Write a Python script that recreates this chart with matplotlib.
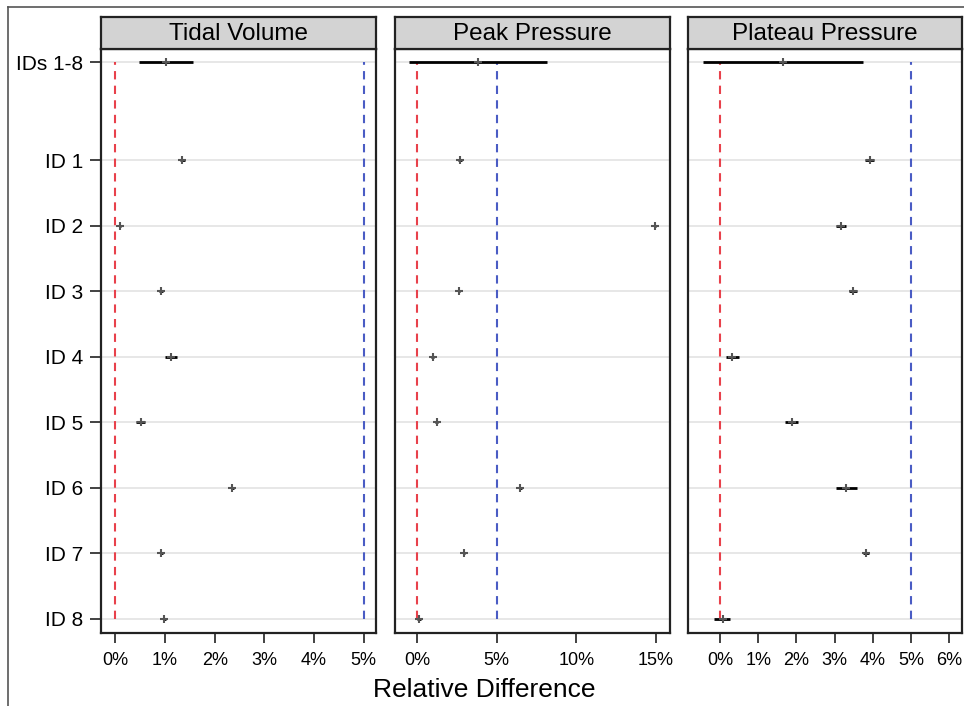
import matplotlib
matplotlib.use("Agg")
import matplotlib.pyplot as plt
from matplotlib.lines import Line2D

plt.rcParams['font.family'] = ['Liberation Sans', 'DejaVu Sans']

row_labels = ["IDs 1-8", "ID 1", "ID 2", "ID 3", "ID 4", "ID 5", "ID 6", "ID 7", "ID 8"]
row_pos = [9.5, 8, 7, 6, 5, 4, 3, 2, 1]

panel_titles = ["Tidal Volume", "Peak Pressure", "Plateau Pressure"]

tv_est = [1.02, 1.35, 0.09, 0.92, 1.12, 0.51, 2.35, 0.92, 0.98]
tv_lo = [0.48, 1.30, 0.07, 0.88, 1.00, 0.42, 2.32, 0.89, 0.95]
tv_hi = [1.57, 1.40, 0.11, 0.96, 1.24, 0.60, 2.38, 0.95, 1.01]

pk_est = [3.86, 2.70, 14.97, 2.64, 0.99, 1.24, 6.50, 2.96, 0.13]
pk_lo = [-0.48, 2.60, 14.90, 2.57, 0.90, 1.14, 6.38, 2.92, 0.03]
pk_hi = [8.16, 2.80, 15.04, 2.71, 1.08, 1.34, 6.62, 3.00, 0.23]

pl_est = [1.66, 3.92, 3.18, 3.48, 0.31, 1.88, 3.30, 3.82, 0.07]
pl_lo = [-0.45, 3.80, 3.05, 3.38, 0.15, 1.71, 3.03, 3.74, -0.15]
pl_hi = [3.74, 4.04, 3.31, 3.58, 0.50, 2.03, 3.58, 3.90, 0.26]

x_ticks = [[0, 1, 2, 3, 4, 5], [0, 5, 10, 15], [0, 1, 2, 3, 4, 5, 6]]
x_limits = [(-0.29, 5.25), (-1.38, 15.89), (-0.84, 6.34)]
ref_lines = [0, 5]

data = [(tv_est, tv_lo, tv_hi), (pk_est, pk_lo, pk_hi), (pl_est, pl_lo, pl_hi)]

W, H = 964, 706
fig = plt.figure(figsize=(W / 100, H / 100), dpi=100)

panel_px = [(101, 376), (395, 670), (688, 962)]
top_px, bot_px = 49, 633
strip_top = 17

for i, ((x0, x1), (est, lo, hi)) in enumerate(zip(panel_px, data)):
    ax = fig.add_axes([x0 / W, 1 - bot_px / H, (x1 - x0) / W, (bot_px - top_px) / H])
    ax.set_xlim(*x_limits[i])
    ax.set_ylim(0.786, 9.70)
    for y in row_pos:
        ax.axhline(y, color='#e3e3e3', lw=1.2, zorder=0)
    ax.vlines(ref_lines[0], 1, 9.5, colors='#e8414b', linestyles=(0, (4, 3)), lw=1.5, zorder=1)
    ax.vlines(ref_lines[1], 1, 9.5, colors='#4a5cc4', linestyles=(0, (4, 3)), lw=1.5, zorder=1)
    ax.hlines(row_pos, lo, hi, colors='black', lw=2.0, zorder=2)
    ax.plot(est, row_pos, linestyle='none', marker='+', ms=6, mew=1.5, color='#555555', zorder=3)
    ax.set_xticks(x_ticks[i])
    ax.set_xticklabels([f"{t}%" for t in x_ticks[i]], fontsize=13)
    ax.tick_params(axis='x', length=7, width=1.3, color='#333333', pad=7)
    if i == 0:
        ax.set_yticks(row_pos)
        ax.set_yticklabels(row_labels, fontsize=15)
        ax.tick_params(axis='y', length=8, width=1.3, color='#333333', pad=5)
    else:
        ax.set_yticks([])
    for s in ax.spines.values():
        s.set_linewidth(1.6)
        s.set_color('#222222')
    # strip
    sax = fig.add_axes([x0 / W, 1 - top_px / H, (x1 - x0) / W, (top_px - strip_top) / H])
    sax.set_facecolor('#d3d3d3')
    sax.set_xticks([])
    sax.set_yticks([])
    for s in sax.spines.values():
        s.set_linewidth(1.6)
        s.set_color('#222222')
    sax.text(0.5, 0.47, panel_titles[i], ha='center', va='center', fontsize=17.5, transform=sax.transAxes)

fig.text(484 / W, 1 - 690 / H, "Relative Difference", ha='center', va='center', fontsize=19)

fig.add_artist(Line2D([8 / W, 8 / W], [0, 1 - 7 / H], color='#555555', lw=1.2, transform=fig.transFigure))
fig.add_artist(Line2D([8 / W, 1], [1 - 7 / H, 1 - 7 / H], color='#555555', lw=1.2, transform=fig.transFigure))

fig.savefig("out.png", dpi=100, facecolor='white')
